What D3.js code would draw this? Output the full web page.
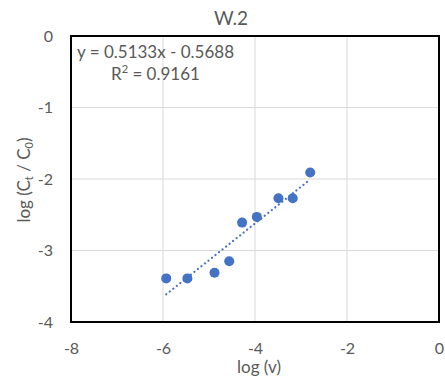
<!DOCTYPE html>
<html>
<head>
<meta charset="utf-8">
<script src="https://cdn.jsdelivr.net/npm/d3@7"></script>
<style>
  body { margin: 0; background: #fff; }
  text { font-family: Lato, "Open Sans", sans-serif; fill: #595959; }
</style>
</head>
<body>
<div id="chart"></div>
<script>
// data
const logV = [-5.93, -5.47, -4.88, -4.56, -4.28, -3.96, -3.49, -3.18, -2.80];
const logC = [-3.39, -3.39, -3.31, -3.15, -2.61, -2.53, -2.27, -2.27, -1.91];
const xTicks = [-8, -6, -4, -2, 0];
const yTicks = [0, -1, -2, -3, -4];
const slope = 0.5133;
const intercept = -0.5688;
const r2 = 0.9161;

const width = 445, height = 376;
const margin = { top: 36, right: 6, bottom: 54, left: 71 };
const w = width - margin.left - margin.right;
const h = height - margin.top - margin.bottom;

const svg = d3.select("#chart").append("svg")
  .attr("width", width)
  .attr("height", height);

const g = svg.append("g")
  .attr("transform", `translate(${margin.left},${margin.top})`);

const x = d3.scaleLinear().domain([-8, 0]).range([0, w]);
const y = d3.scaleLinear().domain([-4, 0]).range([h, 0]);

// gridlines
g.selectAll(".vgrid").data(xTicks).join("line")
  .attr("x1", d => x(d)).attr("x2", d => x(d))
  .attr("y1", 0).attr("y2", h)
  .attr("stroke", "#d9d9d9").attr("stroke-width", 1);
g.selectAll(".hgrid").data(yTicks).join("line")
  .attr("x1", 0).attr("x2", w)
  .attr("y1", d => y(d)).attr("y2", d => y(d))
  .attr("stroke", "#d9d9d9").attr("stroke-width", 1);

// plot frame
g.append("rect")
  .attr("width", w).attr("height", h)
  .attr("fill", "none").attr("stroke", "#000").attr("stroke-width", 2);

// axes (labels only), plain hyphen for minus like the original
const xAxis = g.append("g")
  .attr("transform", `translate(0,${h})`)
  .call(d3.axisBottom(x).tickValues(xTicks).tickSize(0).tickPadding(21).tickFormat(d => String(d)));
xAxis.select(".domain").remove();
xAxis.selectAll("text").style("font-size", "16px").attr("fill", "#595959");

const yAxis = g.append("g")
  .call(d3.axisLeft(y).tickValues(yTicks).tickSize(0).tickPadding(18).tickFormat(d => String(d)));
yAxis.select(".domain").remove();
yAxis.selectAll("text").style("font-size", "16px").attr("fill", "#595959");

// trendline
const xr = d3.extent(logV);
g.append("line")
  .attr("x1", x(xr[0])).attr("y1", y(slope * xr[0] + intercept))
  .attr("x2", x(xr[1])).attr("y2", y(slope * xr[1] + intercept))
  .attr("stroke", "#4472C4").attr("stroke-width", 2.2)
  .attr("stroke-dasharray", "0.1,4.4").attr("stroke-linecap", "round");

// points
g.selectAll("circle").data(logV).join("circle")
  .attr("cx", d => x(d))
  .attr("cy", (d, i) => y(logC[i]))
  .attr("r", 5)
  .attr("fill", "#4472C4");

// equation
g.append("text")
  .attr("x", 6).attr("y", 22)
  .style("font-size", "17px")
  .text(`y = ${slope}x - ${Math.abs(intercept)}`);
const r2Text = g.append("text")
  .attr("x", 40).attr("y", 44)
  .style("font-size", "17px");
r2Text.append("tspan").text("R");
r2Text.append("tspan").attr("dy", -7).style("font-size", "11px").text("2");
r2Text.append("tspan").attr("dy", 7).text(` = ${r2}`);

// title
svg.append("text")
  .attr("x", 231).attr("y", 25)
  .attr("text-anchor", "middle")
  .style("font-size", "19px")
  .text("W.2");

// x title
svg.append("text")
  .attr("x", 259).attr("y", 373)
  .attr("text-anchor", "middle")
  .style("font-size", "17px")
  .text("log (v)");

// y title
const yt = svg.append("text")
  .attr("transform", "translate(30,180) rotate(-90)")
  .attr("text-anchor", "middle")
  .style("font-size", "17px");
yt.append("tspan").text("log (C");
yt.append("tspan").attr("dy", 3).style("font-size", "11px").text("t");
yt.append("tspan").attr("dy", -3).text(" / C");
yt.append("tspan").attr("dy", 3).style("font-size", "11px").text("0");
yt.append("tspan").attr("dy", -3).text(")");
</script>
</body>
</html>
